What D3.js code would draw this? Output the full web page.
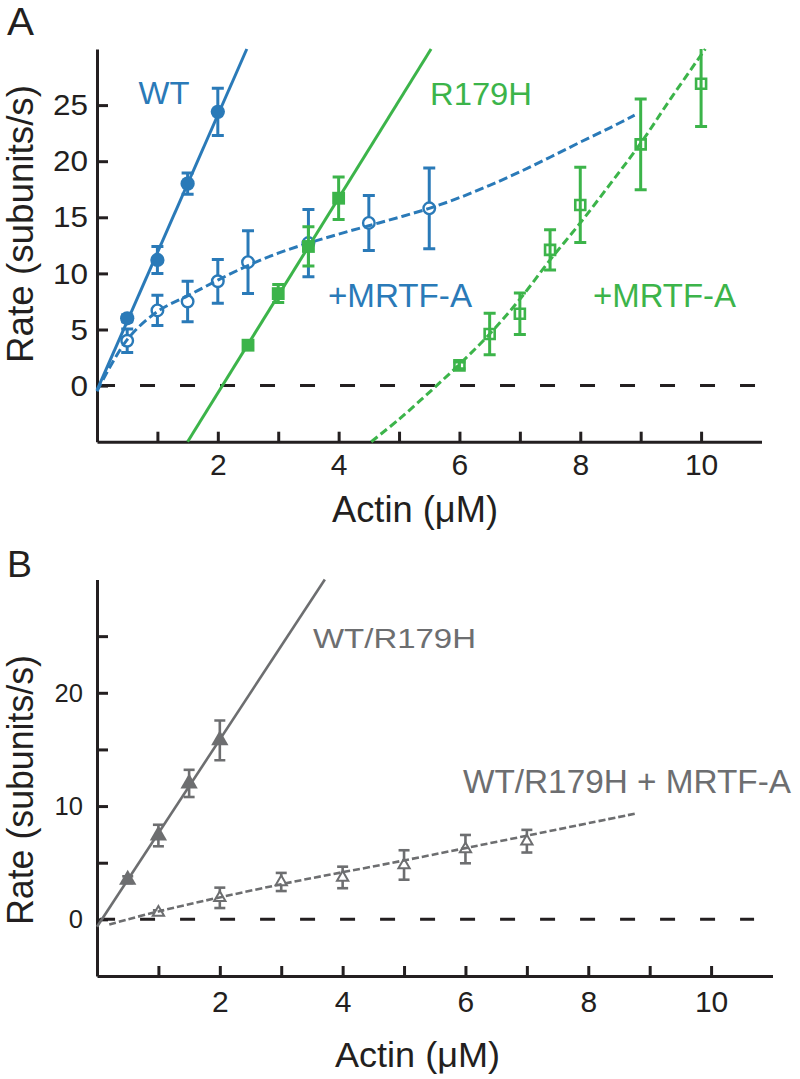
<!DOCTYPE html>
<html><head><meta charset="utf-8">
<script src="https://cdn.jsdelivr.net/npm/d3@7"></script>
<style>body{margin:0;background:#fff}svg{display:block}text{font-family:"Liberation Sans",Arial,Helvetica,sans-serif}</style>
</head><body>
<script>
// ---------- Panel A data ----------
const wtX = [0.5, 1, 1.5, 2];
const wtY = [6.0, 11.2, 18.0, 24.4];
const wtErr = [0.3, 1.2, 0.95, 2.1];
const wtFit = [[0, -0.4], [2.48, 30]];

const wtMX = [0.5, 1, 1.5, 2, 2.5, 3.5, 4.5, 5.5];
const wtMY = [4.0, 6.7, 7.5, 9.3, 11.0, 12.7, 14.5, 15.8];
const wtMErr = [1.05, 1.35, 1.8, 1.95, 2.8, 3.0, 2.45, 3.6];
const wtMFit = [[0, -0.5], [0.5, 4.1], [1, 6.6], [1.5, 8.0], [2, 9.4], [2.5, 10.7], [3, 11.8], [3.5, 12.7], [4, 13.5], [4.5, 14.25], [5, 15.0], [5.5, 15.8], [6, 16.75], [6.5, 17.85], [7, 19.05], [7.5, 20.35], [8, 21.7], [8.5, 23.0], [8.9, 24.1]];

const r179X = [2.5, 3, 3.5, 4];
const r179Y = [3.6, 8.2, 12.4, 16.7];
const r179Err = [0.3, 0.8, 1.75, 1.9];
const r179Fit = [[1.5, -5], [5.53, 30]];

const r179MX = [6, 6.5, 7, 7.5, 8, 9, 10];
const r179MY = [1.8, 4.6, 6.4, 12.1, 16.1, 21.5, 26.9];
const r179MErr = [0.3, 1.85, 1.85, 1.8, 3.35, 4.05, 3.8];
const r179MFit = [[4.54, -5], [5, -3.0], [5.5, -0.6], [6, 1.9], [6.5, 4.6], [7, 7.7], [7.5, 11.2], [8, 14.5], [8.5, 18.0], [9, 21.6], [9.5, 25.6], [10.07, 30]];

// ---------- Panel B data ----------
const hetX = [0.5, 1, 1.5, 2];
const hetY = [3.5, 7.4, 12.0, 15.8];
const hetErr = [0.3, 0.95, 1.2, 1.75];
const hetFit = [[0, -0.65], [3.71, 30]];

const hetMX = [1, 2, 3, 4, 5, 6, 7];
const hetMY = [0.6, 1.9, 3.3, 3.7, 4.8, 6.2, 6.9];
const hetMErr = [0.2, 0.9, 0.8, 0.95, 1.3, 1.25, 1.0];
const hetMFit = [[0.2, -0.45], [1, 0.7], [3, 3.1], [5, 5.2], [8.78, 9.35]];

// ticks
const xTicks = [1, 2, 3, 4, 5, 6, 7, 8, 9, 10];
const xTickLabels = [2, 4, 6, 8, 10];
const yTicksA = [0, 5, 10, 15, 20, 25];
const yTicksB = [0, 5, 10, 15, 20, 25];
const yTickLabelsB = [0, 10, 20];

const BLUE = "#2a7ab8", GREEN = "#3cb44a", GRAY = "#6d6e70", BLACK = "#231f20";

const svg = d3.select("body").append("svg").attr("width", 800).attr("height", 1079);
svg.append("rect").attr("width", 800).attr("height", 1079).attr("fill", "#fff");

function label(txt, x, y, size, len, color, rot) {
  const t = svg.append("text").attr("x", x).attr("y", y).attr("font-size", size)
    .attr("fill", color).text(txt);
  if (len) t.attr("textLength", len).attr("lengthAdjust", "spacingAndGlyphs");
  if (rot) t.attr("transform", `rotate(-90,${x},${y})`).attr("text-anchor", "middle");
  return t;
}

function panel(opt) {
  const {x, y, yTicks, yLabelFmt, yPad, yLabLen, xPad, xSize, ySize} = opt;
  const g = svg.append("g");
  const yAxis = d3.axisLeft(y).tickValues(yTicks).tickSizeInner(-11).tickSizeOuter(0)
    .tickPadding(yPad).tickFormat(yLabelFmt);
  const ya = g.append("g").attr("transform", `translate(${x(0)},0)`).call(yAxis);
  const xAxis = d3.axisBottom(x).tickValues(xTicks).tickSizeInner(-10).tickSizeOuter(0)
    .tickPadding(xPad).tickFormat(d => xTickLabels.includes(d) ? d : "");
  const xa = g.append("g").attr("transform", `translate(0,${y.range()[0]})`).call(xAxis);
  [ya, xa].forEach(a => {
    a.select(".domain").attr("stroke", BLACK).attr("stroke-width", 3);
    a.selectAll(".tick line").attr("stroke", BLACK).attr("stroke-width", 3);
    a.selectAll("text").attr("fill", BLACK).attr("font-family", '"Liberation Sans",Arial,sans-serif');
  });
  ya.selectAll("text").attr("font-size", ySize).each(function(d) {
    const s = String(yLabelFmt(d));
    if (s && yLabLen) d3.select(this).attr("textLength", s.length * yLabLen).attr("lengthAdjust", "spacingAndGlyphs");
  });
  xa.selectAll("text").attr("font-size", xSize);
  const id = "clip" + Math.round(y.range()[0]);
  svg.append("clipPath").attr("id", id).append("rect")
    .attr("x", x(0)).attr("y", y(30)).attr("width", x(11) - x(0)).attr("height", y(-5) - y(30));
  return {g, id};
}

function zeroLine(g, x, y, x1) {
  g.append("line").attr("x1", x(0.05)).attr("x2", x(x1)).attr("y1", y(0)).attr("y2", y(0))
    .attr("stroke", BLACK).attr("stroke-width", 3).attr("stroke-dasharray", "15,25");
}

function fitLine(g, pts, x, y, color, dash, w, curve) {
  const line = d3.line().x(d => x(d[0])).y(d => y(d[1])).curve(curve || d3.curveLinear);
  g.append("path").attr("d", line(pts)).attr("fill", "none").attr("stroke", color)
    .attr("stroke-width", w).attr("stroke-dasharray", dash || null);
}

function errBars(g, clipId, xs, ys, es, x, y, color, cap, w) {
  const eg = g.append("g").attr("clip-path", `url(#${clipId})`).attr("stroke", color).attr("stroke-width", w);
  xs.forEach((xv, i) => {
    const top = ys[i] + es[i], bot = ys[i] - es[i];
    eg.append("line").attr("x1", x(xv)).attr("x2", x(xv)).attr("y1", y(top)).attr("y2", y(bot));
    eg.append("line").attr("x1", x(xv) - cap / 2).attr("x2", x(xv) + cap / 2).attr("y1", y(top)).attr("y2", y(top));
    eg.append("line").attr("x1", x(xv) - cap / 2).attr("x2", x(xv) + cap / 2).attr("y1", y(bot)).attr("y2", y(bot));
  });
}

function markers(g, xs, ys, x, y, type, size, color, filled, w) {
  const sym = d3.symbol().type(type).size(size);
  xs.forEach((xv, i) => {
    g.append("path").attr("d", sym()).attr("transform", `translate(${x(xv)},${y(ys[i])})`)
      .attr("fill", filled === true ? color : filled).attr("stroke", color).attr("stroke-width", filled === true ? 0 : w);
  });
}

// ================= Panel A =================
const xA = d3.scaleLinear().domain([0, 11]).range([97, 761.5]);
const yA = d3.scaleLinear().domain([-5, 30]).range([441.7, 49]);
const pA = panel({x: xA, y: yA, yTicks: yTicksA, yLabelFmt: d => d, yPad: 9, yLabLen: 17.5, xPad: 12, xSize: 30, ySize: 30});
const gA = pA.g;
zeroLine(gA, xA, yA, 10.93);

errBars(gA, pA.id, r179MX, r179MY, r179MErr, xA, yA, GREEN, 12, 3);
markers(gA, r179MX, r179MY, xA, yA, d3.symbolSquare, 100, GREEN, "none", 2.6);
errBars(gA, pA.id, wtMX, wtMY, wtMErr, xA, yA, BLUE, 12, 3);
markers(gA, wtMX, wtMY, xA, yA, d3.symbolCircle, 105, BLUE, "#fff", 2.4);

fitLine(gA, wtMFit, xA, yA, BLUE, "9,4", 3, d3.curveCatmullRom);
fitLine(gA, r179MFit, xA, yA, GREEN, "8,4", 3, d3.curveCatmullRom);

errBars(gA, pA.id, r179X, r179Y, r179Err, xA, yA, GREEN, 12, 3);
fitLine(gA, r179Fit, xA, yA, GREEN, null, 3);
markers(gA, r179X, r179Y, xA, yA, d3.symbolSquare, 165, GREEN, true, 0);

errBars(gA, pA.id, wtX, wtY, wtErr, xA, yA, BLUE, 12, 3);
fitLine(gA, wtFit, xA, yA, BLUE, null, 3);
markers(gA, wtX, wtY, xA, yA, d3.symbolCircle, 160, BLUE, true, 0);

label("A", 7, 35, 39, 27, BLACK);
label("WT", 138.5, 104, 31, 51, BLUE);
label("R179H", 430, 105, 32, 102, GREEN);
label("+MRTF-A", 328, 307, 33, 144, BLUE);
label("+MRTF-A", 593, 307, 33, 143, GREEN);
label("Actin (\u03bcM)", 332, 521.5, 37, 166, BLACK);
label("Rate (subunits/s)", 33, 224, 37, 278, BLACK, true);

// ================= Panel B =================
const xB = d3.scaleLinear().domain([0, 11]).range([97, 772.5]);
const yB = d3.scaleLinear().domain([-5, 30]).range([976, 579.5]);
const pB = panel({x: xB, y: yB, yTicks: yTicksB, yLabelFmt: d => yTickLabelsB.includes(d) ? d : "", yPad: 14, yLabLen: 14.2, xPad: 15, xSize: 30, ySize: 26});
const gB = pB.g;
zeroLine(gB, xB, yB, 10.7);

errBars(gB, pB.id, hetMX, hetMY, hetMErr, xB, yB, GRAY, 11, 2.6);
markers(gB, hetMX, hetMY, xB, yB, d3.symbolTriangle, 55, GRAY, "#fff", 2);
fitLine(gB, hetMFit, xB, yB, GRAY, "7,3", 2.6, d3.curveCatmullRom);

errBars(gB, pB.id, hetX, hetY, hetErr, xB, yB, GRAY, 11, 2.6);
fitLine(gB, hetFit, xB, yB, GRAY, null, 2.6);
markers(gB, hetX, hetY, xB, yB, d3.symbolTriangle, 130, GRAY, true, 0);

label("B", 7, 577, 37, 25, BLACK);
label("WT/R179H", 313, 648, 28, 163, GRAY);
label("WT/R179H + MRTF-A", 463, 793, 33, 328, GRAY);
label("Actin (\u03bcM)", 335, 1066.5, 35, 165, BLACK);
label("Rate (subunits/s)", 33, 790, 36, 270, BLACK, true);
</script>
</body></html>
